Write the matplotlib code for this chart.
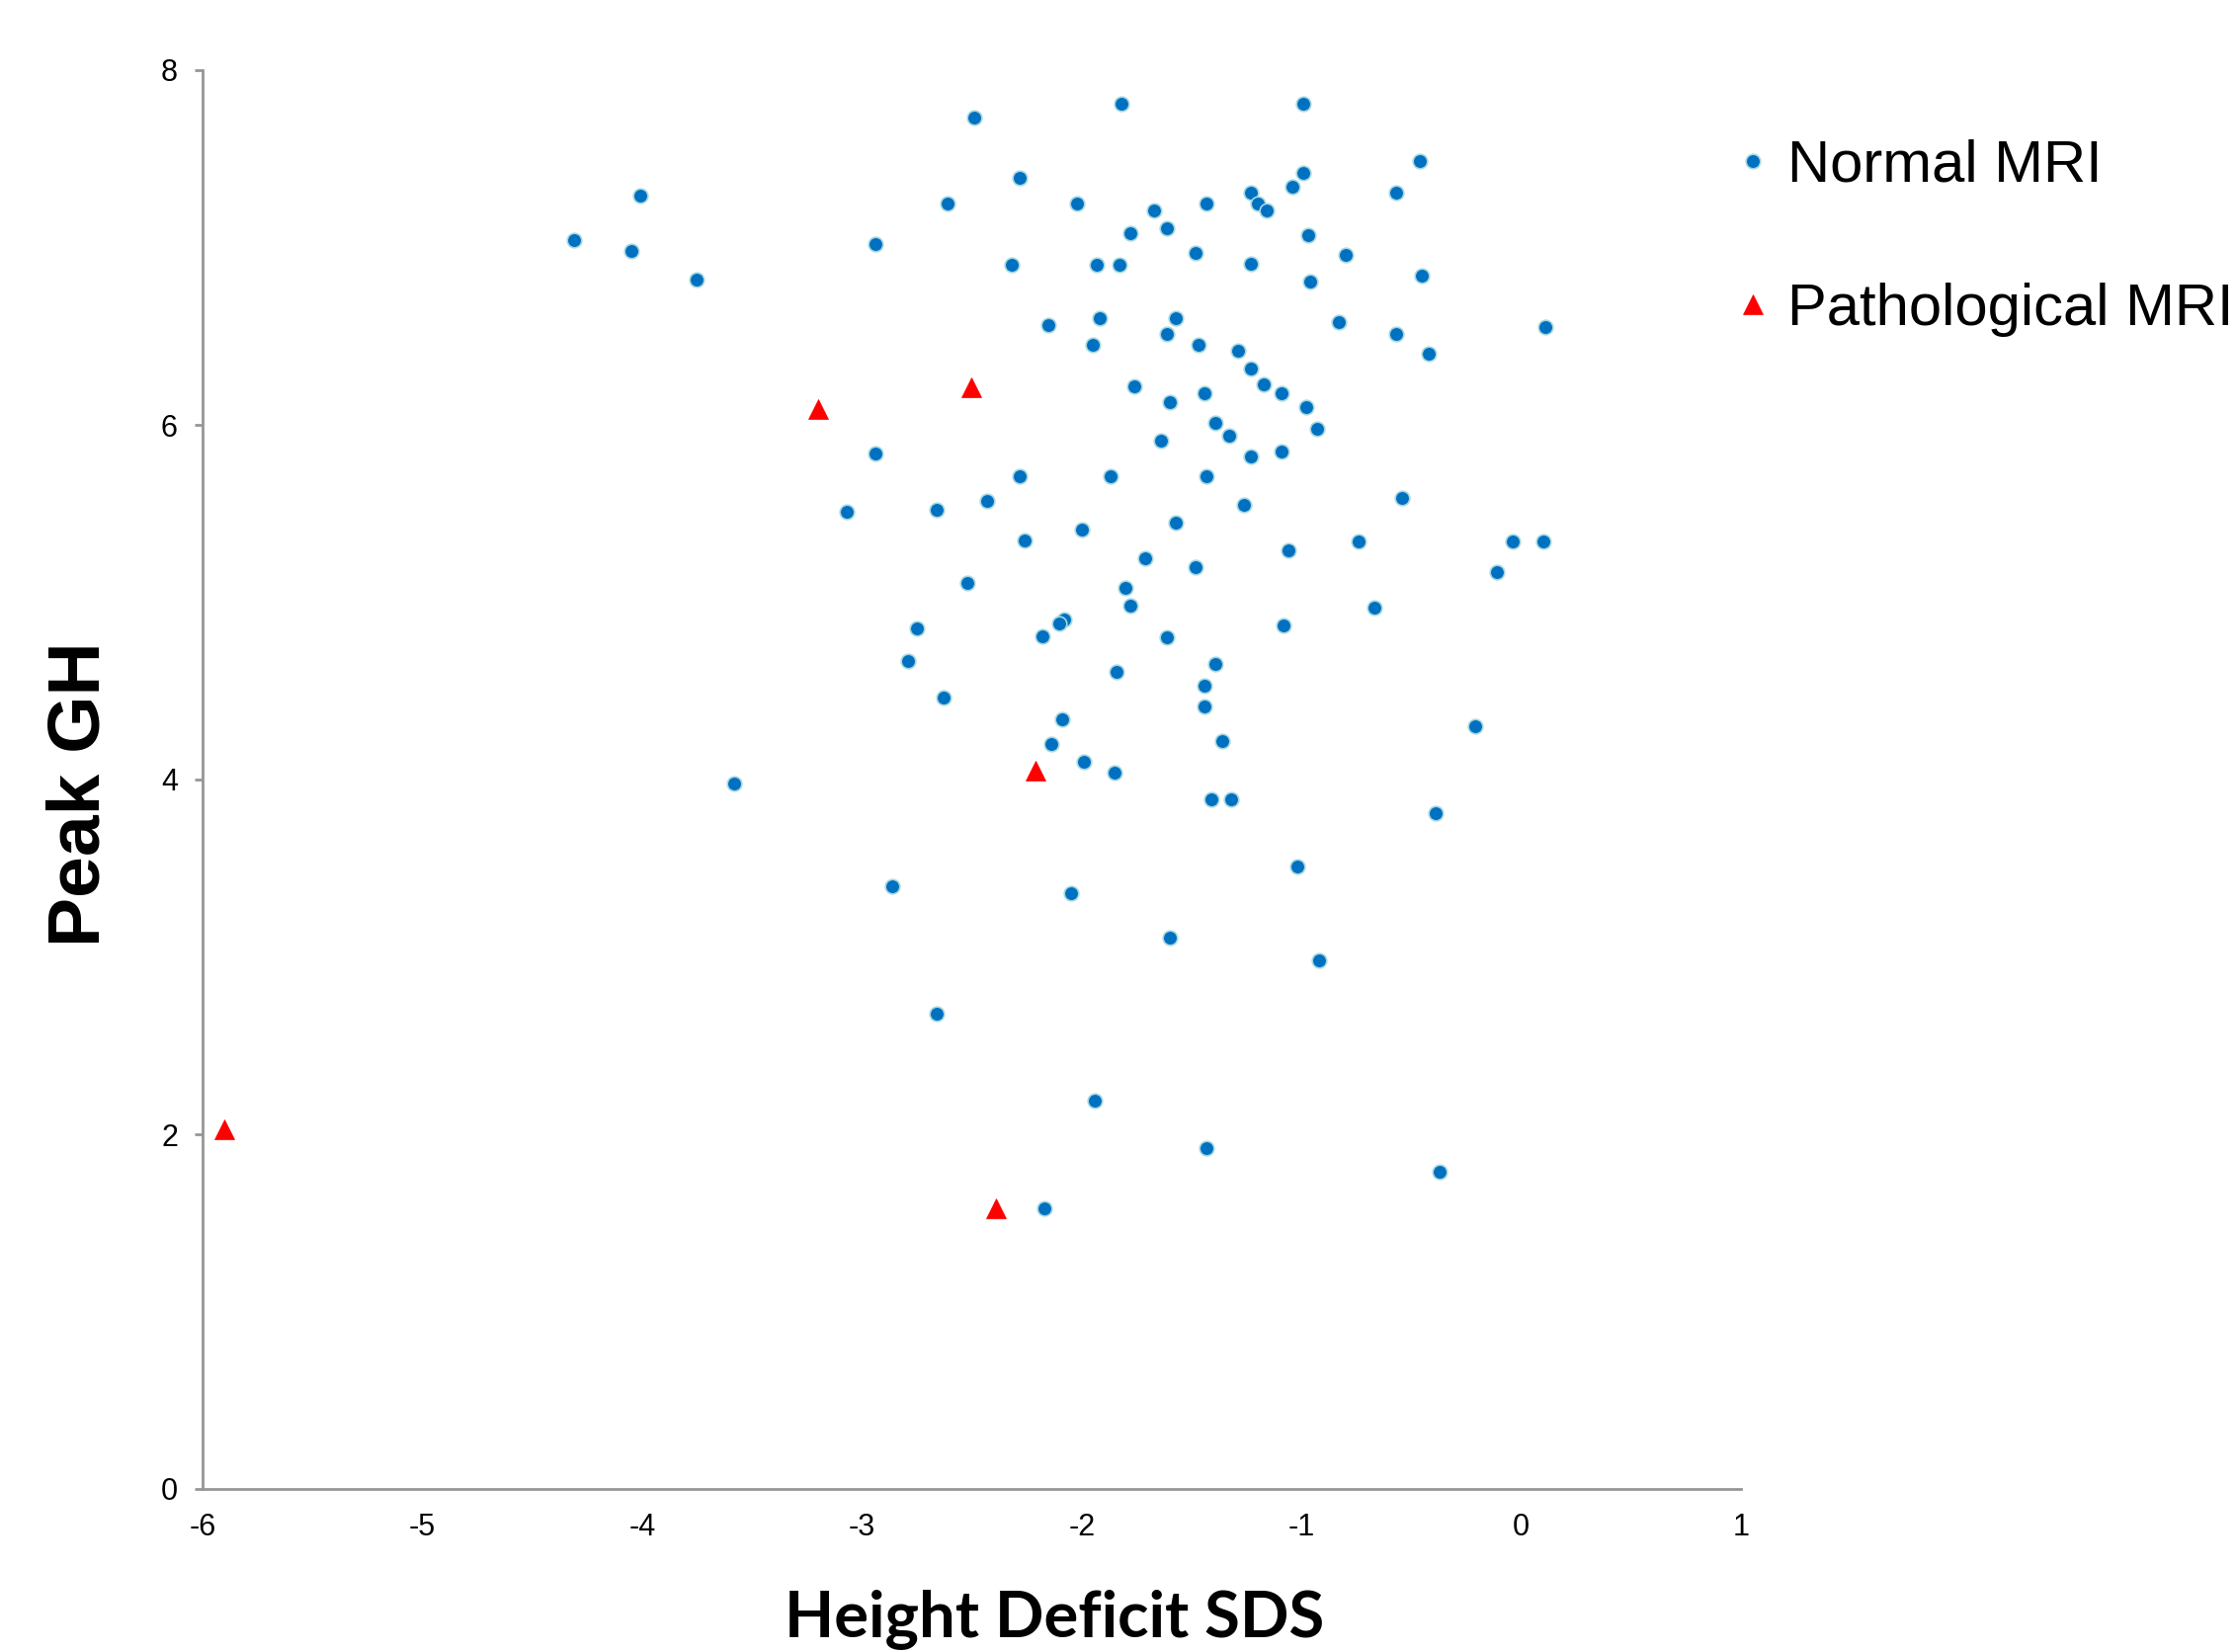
import matplotlib
matplotlib.use("Agg")
import matplotlib.pyplot as plt

# Normal MRI data (Height Deficit SDS, Peak GH)
normal_x = [-4.31, -4.01, -4.05, -3.75, -2.49, -1.82, -0.99, -2.61, -2.28, -2.02,
            -2.94, -2.32, -1.67, -1.61, -1.78, -1.43, -1.23, -1.20, -1.16, -1.04,
            -0.99, -0.46, -0.57, -1.48, -1.93, -1.83, -1.23, -0.97, -0.80, -0.96,
            -0.45, -2.15, -1.92, -1.95, -1.57, -1.61, -1.47, -1.29, -1.23, -0.83,
            -0.57, -0.42, 0.11, -1.76, -1.17, -1.44, -1.09, -1.60, -0.98, -1.39,
            -1.33, -0.93, -1.64, -1.23, -1.09, -2.94, -2.28, -1.87, -1.43, -3.07,
            -2.66, -2.43, -1.26, -0.54, -2.00, -1.57, -2.26, -0.74, -0.04, 0.10,
            -1.06, -1.71, -1.48, -0.11, -2.52, -1.80, -1.78, -0.67, -2.08, -2.10,
            -2.75, -1.08, -2.18, -1.61, -2.79, -1.39, -1.84, -1.44, -2.63, -1.44,
            -2.09, -0.21, -1.36, -2.14, -1.99, -1.85, -3.58, -1.41, -1.32, -0.39,
            -1.02, -2.86, -2.05, -1.60, -0.92, -2.66, -1.94, -1.43, -0.37, -2.17]
normal_y = [7.04, 7.29, 6.98, 6.82, 7.73, 7.81, 7.81, 7.25, 7.39, 7.25,
            7.02, 6.90, 7.21, 7.11, 7.08, 7.25, 7.31, 7.25, 7.21, 7.34,
            7.42, 7.49, 7.31, 6.97, 6.90, 6.90, 6.91, 7.07, 6.96, 6.81,
            6.84, 6.56, 6.60, 6.45, 6.60, 6.51, 6.45, 6.42, 6.32, 6.58,
            6.51, 6.40, 6.55, 6.22, 6.23, 6.18, 6.18, 6.13, 6.10, 6.01,
            5.94, 5.98, 5.91, 5.82, 5.85, 5.84, 5.71, 5.71, 5.71, 5.51,
            5.52, 5.57, 5.55, 5.59, 5.41, 5.45, 5.35, 5.34, 5.34, 5.34,
            5.29, 5.25, 5.20, 5.17, 5.11, 5.08, 4.98, 4.97, 4.90, 4.88,
            4.85, 4.87, 4.81, 4.80, 4.67, 4.65, 4.61, 4.53, 4.46, 4.41,
            4.34, 4.30, 4.22, 4.20, 4.10, 4.04, 3.98, 3.89, 3.89, 3.81,
            3.51, 3.40, 3.36, 3.11, 2.98, 2.68, 2.19, 1.92, 1.79, 1.58]

# Pathological MRI data
path_x = [-3.20, -2.50, -2.21, -5.90, -2.39]
path_y = [6.09, 6.21, 4.05, 2.03, 1.58]

x_ticks = [-6, -5, -4, -3, -2, -1, 0, 1]
y_ticks = [0, 2, 4, 6, 8]

plt.rcParams['font.family'] = ['Liberation Sans', 'DejaVu Sans']

fig = plt.figure(figsize=(22.62, 16.72), dpi=100)
ax = fig.add_axes([205/2262, 1 - 1507/1672, (1762-205)/2262, (1507-71)/1672])

ax.plot(normal_x, normal_y, linestyle='none', marker='o', markersize=10.5,
        markerfacecolor='#0070C0', markeredgecolor='#A6D8E0', markeredgewidth=1.2,
        label='Normal MRI', zorder=3)
ax.plot(path_x, path_y, linestyle='none', marker='^', markersize=15,
        markerfacecolor='#FF0000', markeredgecolor='#FF0000', markeredgewidth=0.5,
        label='Pathological MRI', zorder=3)

ax.set_xlim(-6, 1)
ax.set_ylim(0, 8)
ax.set_xticks(x_ticks)
ax.set_yticks(y_ticks)
ax.set_xticklabels([str(v) for v in x_ticks])
ax.set_yticklabels([str(v) for v in y_ticks])

for s in ['top', 'right']:
    ax.spines[s].set_visible(False)
for s in ['left', 'bottom']:
    ax.spines[s].set_color('#969696')
    ax.spines[s].set_linewidth(2)

ax.tick_params(axis='y', length=6, width=2, color='#969696', labelsize=22, pad=12)
ax.tick_params(axis='x', length=0, labelsize=22, pad=17)

fig.text(81/2262, 1 - 804/1672, 'Peak GH', fontsize=54, fontweight='bold',
         rotation=90, ha='center', va='center')

fig.text(1067/2262, 1 - 1657/1672, 'Height Deficit SDS', fontsize=47,
         fontweight='bold', family=['Lato', 'DejaVu Sans'], ha='center', va='baseline')

fig.legend(loc='upper left', bbox_to_anchor=(1758/2262, 1 - 141/1672),
           frameon=False, fontsize=43, handlelength=0.55, handletextpad=0.3,
           borderpad=0, borderaxespad=0, labelspacing=1.5, markerscale=1.0)

fig.savefig('out.png', dpi=100)
